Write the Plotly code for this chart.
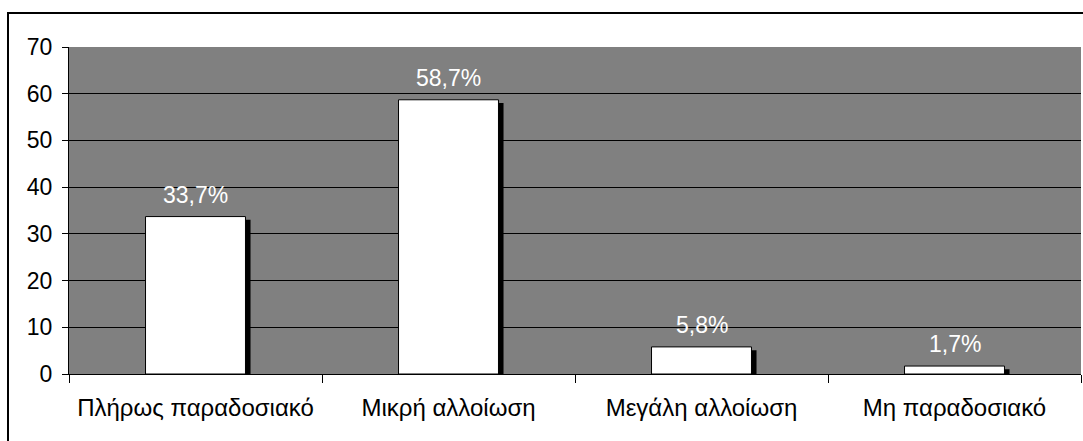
import plotly.graph_objects as go

categories = ["Πλήρως παραδοσιακό", "Μικρή αλλοίωση", "Μεγάλη αλλοίωση", "Μη παραδοσιακό"]
values = [33.7, 58.7, 5.8, 1.7]
labels = ["33,7%", "58,7%", "5,8%", "1,7%"]
y_ticks = [0, 10, 20, 30, 40, 50, 60, 70]
grid_vals = [10, 20, 30, 40, 50, 60]

FONT = "Liberation Sans, Arial, sans-serif"
BAR_W = 0.395
# drop shadow: a few pixels right and down of each bar
SHADOW_DX = 0.02
SHADOW_DY = 0.7

fig = go.Figure()

fig.add_trace(go.Bar(
    x=categories,
    y=[v - SHADOW_DY for v in values],
    width=BAR_W,
    offset=-BAR_W / 2 + SHADOW_DX,
    marker=dict(color="black", line=dict(width=0)),
    hoverinfo="skip",
    showlegend=False,
))

fig.add_trace(go.Bar(
    x=categories,
    y=values,
    width=BAR_W,
    offset=-BAR_W / 2,
    marker=dict(color="white", line=dict(color="black", width=1)),
    showlegend=False,
))

for cat, v, lab in zip(categories, values, labels):
    fig.add_annotation(
        x=cat, y=v, text=lab, showarrow=False,
        yanchor="middle", yshift=22,
        font=dict(family=FONT, size=23, color="white"),
    )

# outer frame around the whole chart
fig.add_shape(
    type="rect", xref="paper", yref="paper",
    x0=(8 - 69) / 1012, x1=1.05, y0=-0.3, y1=1 + (47 - 13) / 327,
    line=dict(color="black", width=2), layer="below",
)

fig.update_layout(
    width=1083, height=441,
    margin=dict(l=69, r=2, t=47, b=67),
    paper_bgcolor="white",
    plot_bgcolor="#808080",
    barmode="overlay",
    font=dict(family=FONT, color="black"),
    xaxis=dict(
        type="category",
        showline=True, linecolor="black", linewidth=1,
        ticks="outside", tickson="boundaries", ticklen=8, tickcolor="black",
        tickfont=dict(size=24, color="black"),
        ticklabelstandoff=12,
        showgrid=False, zeroline=False,
    ),
    yaxis=dict(
        range=[0, 70], tickvals=y_ticks,
        showline=True, linecolor="black", linewidth=1,
        ticks="outside", ticklen=6, tickcolor="black",
        tickfont=dict(size=23, color="black"),
        ticklabelstandoff=5,
        showgrid=False, zeroline=False,
        minor=dict(tickvals=grid_vals, showgrid=True, gridcolor="black",
                   gridwidth=1, ticks=""),
    ),
)

fig.write_html("out.html")
